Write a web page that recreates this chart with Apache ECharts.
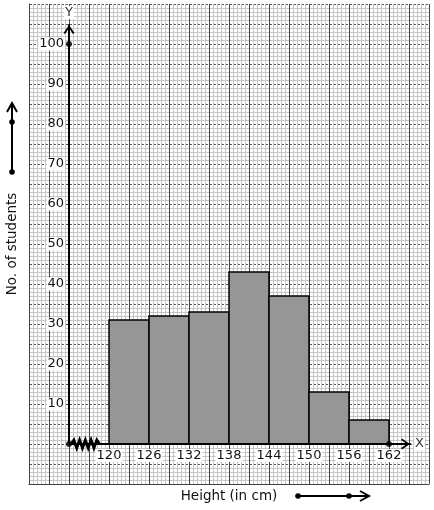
<!DOCTYPE html>
<html>
<head>
<meta charset="utf-8">
<script src="https://cdn.jsdelivr.net/npm/echarts@6/dist/echarts.min.js"></script>
<style>
html,body{margin:0;padding:0;background:#fff;}
#chart{width:434px;height:510px;}
</style>
</head>
<body>
<div id="chart"></div>
<script>
// ---- data ----
const binStarts = [120, 126, 132, 138, 144, 150, 156];
const binEnds = [126, 132, 138, 144, 150, 156, 162];
const frequencies = [31, 32, 33, 43, 37, 13, 6];
const xTickLabels = ['120', '126', '132', '138', '144', '150', '156', '162'];
const yTickLabels = ['10', '20', '30', '40', '50', '60', '70', '80', '90', '100'];
const xAxisTitle = 'Height (in cm)';
const yAxisTitle = 'No. of students';

const chart = echarts.init(document.getElementById('chart'), null, {renderer: 'canvas'});
const FONT = 'DejaVu Sans';
const arrowPath = 'path://M0,8 L5.5,0 L11,8 L9.4,8.9 L5.5,2.9 L1.6,8.9 Z';

const histData = binStarts.map((s, i) => [s, binEnds[i], frequencies[i]]);

const option = {
  animation: false,
  backgroundColor: '#fff',
  grid: [
    {left: 29, top: 4, width: 400, height: 480},
    {left: 69, top: 25, width: 341, height: 419}
  ],
  xAxis: [
    {
      gridIndex: 0, type: 'value', min: 0, max: 400, interval: 20, position: 'top',
      axisLine: {show: true, lineStyle: {color: '#444', width: 1}},
      axisTick: {show: false}, axisLabel: {show: false},
      splitLine: {show: true, lineStyle: {color: '#444', width: 1}},
      minorTick: {show: false, splitNumber: 5},
      minorSplitLine: {show: true, lineStyle: {color: '#c6c6c6', width: 1}}
    },
    {
      gridIndex: 1, type: 'value', min: 114, max: 165.15, interval: 6, z: 3,
      axisLine: {show: true, onZero: false, lineStyle: {color: '#000', width: 2},
        symbol: ['none', arrowPath], symbolSize: [11, 9], symbolOffset: [0, -4.5]},
      axisTick: {show: false},
      axisLabel: {
        show: true, margin: 5, color: '#111', fontFamily: FONT, fontSize: 13,
        backgroundColor: '#fff', padding: [0, 1],
        showMinLabel: false, showMaxLabel: false,
        formatter: v => { const s = String(Math.round(v)); return xTickLabels.indexOf(s) >= 0 ? s : ''; }
      },
      splitLine: {show: false},
      name: 'X', nameLocation: 'end', nameGap: 4,
      nameTextStyle: {color: '#333', fontFamily: FONT, fontSize: 13, backgroundColor: '#fff', padding: [0, 1]}
    }
  ],
  yAxis: [
    {
      gridIndex: 0, type: 'value', min: 0, max: 480, interval: 20,
      axisLine: {show: true, lineStyle: {color: '#444', width: 1}},
      axisTick: {show: false}, axisLabel: {show: false},
      splitLine: {show: true, lineStyle: {color: '#555', width: 1, type: [3, 1]}},
      minorTick: {show: false, splitNumber: 5},
      minorSplitLine: {show: true, lineStyle: {color: '#c6c6c6', width: 1}}
    },
    {
      gridIndex: 1, type: 'value', min: 0, max: 104.75, interval: 10, z: 3,
      axisLine: {show: true, onZero: false, lineStyle: {color: '#000', width: 2},
        symbol: ['none', arrowPath], symbolSize: [11, 9], symbolOffset: [0, -4.5]},
      axisTick: {show: false},
      axisLabel: {
        show: true, margin: 4, color: '#111', fontFamily: FONT, fontSize: 13,
        backgroundColor: '#fff', padding: [0, 1],
        showMinLabel: false, showMaxLabel: false,
        formatter: v => { const s = String(Math.round(v)); return yTickLabels.indexOf(s) >= 0 ? s : ''; }
      },
      splitLine: {show: false},
      name: 'Y', nameLocation: 'end', nameGap: 6,
      nameTextStyle: {color: '#333', fontFamily: FONT, fontSize: 13, backgroundColor: '#fff', padding: [0, 1]}
    }
  ],
  series: [
    {
      type: 'custom', xAxisIndex: 1, yAxisIndex: 1, z: 2,
      data: histData,
      renderItem: function (params, api) {
        const p0 = api.coord([api.value(0), api.value(2)]);
        const p1 = api.coord([api.value(1), 0]);
        return {
          type: 'rect',
          shape: {x: p0[0], y: p0[1], width: p1[0] - p0[0], height: p1[1] - p0[1]},
          style: {fill: '#969696', stroke: '#000', lineWidth: 1.5}
        };
      }
    },
    {
      // axis break (kink) decoration on the x axis
      type: 'custom', xAxisIndex: 1, yAxisIndex: 1, z: 5,
      data: [[114.3, 118.6]],
      renderItem: function (params, api) {
        const a = api.coord([api.value(0), 0]);
        const b = api.coord([api.value(1), 0]);
        const n = 10;
        const pts = [];
        for (let i = 0; i <= n; i++) {
          const x = a[0] + (b[0] - a[0]) * i / n;
          const y = a[1] + (i === 0 || i === n ? 0 : (i % 2 ? -4 : 4));
          pts.push([x, y]);
        }
        return {type: 'polyline', shape: {points: pts}, style: {stroke: '#000', lineWidth: 2.8, fill: null}};
      }
    },
    {
      type: 'scatter', xAxisIndex: 1, yAxisIndex: 1, z: 6,
      symbolSize: 6, itemStyle: {color: '#000'},
      data: [[114, 0], [114, 100], [162, 0]]
    }
  ],
  graphic: [
    {type: 'text', x: 12, y: 244, rotation: Math.PI / 2,
      style: {text: yAxisTitle, font: '13.5px "DejaVu Sans"', fill: '#111', align: 'center', verticalAlign: 'middle'}},
    {type: 'line', shape: {x1: 12, y1: 172, x2: 12, y2: 104}, style: {stroke: '#000', lineWidth: 2}},
    {type: 'polyline', shape: {points: [[7, 112], [12, 103], [17, 112]]}, style: {stroke: '#000', lineWidth: 2, fill: null}},
    {type: 'circle', shape: {cx: 12, cy: 172, r: 2.8}, style: {fill: '#000'}},
    {type: 'circle', shape: {cx: 12, cy: 122, r: 2.8}, style: {fill: '#000'}},
    {type: 'text', x: 229, y: 496,
      style: {text: xAxisTitle, font: '13.5px "DejaVu Sans"', fill: '#111', align: 'center', verticalAlign: 'middle'}},
    {type: 'line', shape: {x1: 298, y1: 496, x2: 368, y2: 496}, style: {stroke: '#000', lineWidth: 2}},
    {type: 'polyline', shape: {points: [[360, 491], [369, 496], [360, 501]]}, style: {stroke: '#000', lineWidth: 2, fill: null}},
    {type: 'circle', shape: {cx: 298, cy: 496, r: 2.8}, style: {fill: '#000'}},
    {type: 'circle', shape: {cx: 349, cy: 496, r: 2.8}, style: {fill: '#000'}}
  ]
};
chart.setOption(option);
</script>
</body>
</html>
